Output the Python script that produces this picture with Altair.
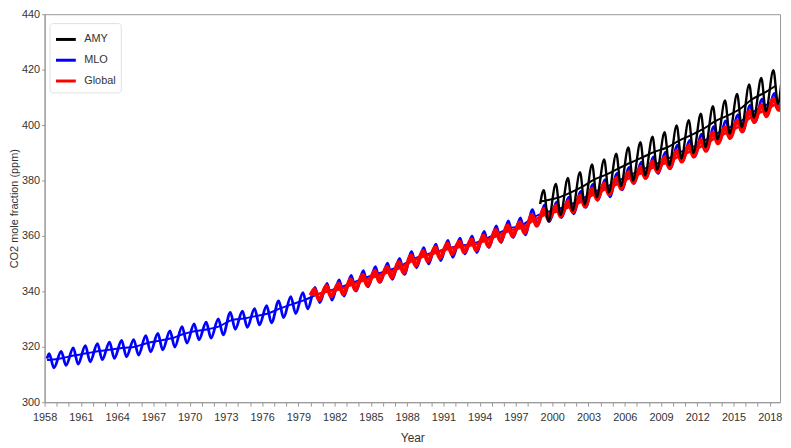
import altair as alt
import pandas as pd

# ---------------- data ----------------
mlo_years = list(range(1958, 2019))
mlo_trend = [315.3, 315.97, 316.91, 317.64, 318.45, 318.99, 319.62, 320.04, 321.37, 322.18,
             323.05, 324.62, 325.68, 326.32, 327.46, 329.68, 330.19, 331.12, 332.03, 333.84,
             335.41, 336.84, 338.76, 340.12, 341.48, 343.15, 344.85, 346.35, 347.61, 349.31,
             351.69, 353.20, 354.45, 355.70, 356.54, 357.21, 358.96, 360.97, 362.74, 363.88,
             366.84, 368.54, 369.71, 371.32, 373.45, 375.98, 377.70, 379.98, 382.09, 384.02,
             385.83, 387.64, 390.10, 391.85, 394.06, 396.74, 398.81, 401.01, 404.41, 406.76,
             408.72]
mlo_peak = [317.5, 318.3, 319.6, 320.4, 321.1, 321.7, 322.3, 322.6, 324.0, 324.8,
            325.7, 327.3, 328.3, 328.9, 330.1, 332.4, 332.9, 333.8, 334.8, 336.6,
            338.1, 339.5, 341.4, 342.9, 344.1, 345.8, 347.5, 348.9, 350.2, 351.9,
            354.3, 355.8, 357.0, 358.4, 359.2, 359.9, 361.6, 363.6, 365.4, 366.5,
            369.5, 371.2, 372.3, 374.0, 376.1, 378.6, 380.3, 382.6, 384.7, 386.6,
            388.5, 390.2, 392.8, 394.5, 396.7, 399.4, 401.5, 403.7, 407.1, 409.4,
            411.4]
mlo_trough = [312.4, 313.3, 313.7, 314.6, 315.4, 315.8, 316.4, 317.0, 318.2, 318.9,
              319.9, 321.3, 322.5, 323.1, 324.3, 326.3, 327.0, 327.9, 328.6, 330.5,
              332.0, 333.7, 335.9, 336.8, 338.3, 340.1, 341.6, 343.2, 344.3, 346.1,
              348.5, 349.9, 351.1, 352.3, 353.5, 354.0, 355.8, 357.6, 359.4, 360.4,
              363.6, 365.2, 366.6, 368.0, 370.3, 372.8, 374.1, 376.6, 378.9, 380.9,
              382.5, 384.3, 386.8, 388.6, 390.7, 393.5, 395.5, 397.6, 401.0, 403.6,
              405.2]

glb_years = list(range(1980, 2019))
glb_trend = [338.91, 340.11, 340.86, 342.53, 344.07, 345.54, 346.97, 348.68, 351.16, 352.78,
             354.05, 355.39, 356.09, 356.83, 358.33, 360.17, 361.93, 363.05, 365.70, 367.80,
             368.96, 370.57, 372.59, 375.15, 376.95, 378.98, 381.15, 382.90, 385.02, 386.50,
             388.76, 390.63, 392.65, 395.40, 397.34, 399.65, 403.06, 405.22, 407.61]
glb_peak = [340.8, 342.0, 342.8, 344.4, 346.0, 347.4, 348.9, 350.6, 353.0, 354.7,
            355.9, 357.3, 358.0, 358.7, 360.2, 362.1, 363.8, 364.9, 367.6, 369.7,
            370.9, 372.5, 374.5, 377.0, 378.9, 380.9, 383.0, 384.8, 386.9, 388.4,
            390.7, 392.5, 394.6, 397.3, 399.2, 401.6, 405.0, 407.1, 409.5]
glb_trough = [336.9, 338.1, 338.9, 340.5, 342.1, 343.5, 345.0, 346.7, 349.2, 350.8,
              352.0, 353.4, 354.1, 354.8, 356.3, 358.2, 359.9, 361.1, 363.7, 365.8,
              367.0, 368.6, 370.6, 373.2, 374.9, 377.0, 379.2, 380.9, 383.0, 384.5,
              386.8, 388.6, 390.7, 393.4, 395.3, 397.7, 401.1, 403.2, 405.6]

amy_years = list(range(1999, 2019))
amy_trend = [372.8, 373.8, 375.6, 377.8, 380.4, 382.2, 384.4, 386.5, 388.4, 390.4,
             391.9, 394.4, 396.4, 398.6, 401.4, 403.4, 405.7, 409.2, 411.5, 414.2]
amy_peak = [376.5, 378.8, 380.9, 383.0, 385.8, 387.6, 389.7, 391.9, 393.8, 395.8,
            397.4, 399.9, 401.8, 404.1, 406.8, 408.9, 411.2, 414.7, 417.0, 419.8]
amy_trough = [365.2, 367.5, 369.2, 371.4, 374.0, 375.7, 378.0, 380.0, 381.9, 383.9,
              385.5, 387.9, 389.9, 392.1, 394.9, 396.9, 399.2, 402.7, 405.0, 407.7]

# first / last monthly value of each record: (time, value)
start_points = {"MLO": (1958.2, 315.7), "Global": (1980.0, 338.6), "AMY": (1999.0, 371.5)}
end_points = {"MLO": (2018.95, 409.0), "Global": (2018.95, 407.2), "AMY": (2018.95, 415.0)}
trend_start = {"MLO": (1958.2, 315.2), "Global": (1980.0, 338.7), "AMY": (1999.0, 372.4)}
# month position (fraction of year) of seasonal maximum / minimum
peak_phase = {"MLO": 0.37, "Global": 0.33, "AMY": 0.30}
trough_phase = {"MLO": 0.77, "Global": 0.70, "AMY": 0.68}

series_names = ["AMY", "MLO", "Global"]
series_colors = ["#000000", "#0000ff", "#ff0000"]

# ---------------- table ----------------
rows = []
def build(name, years, trend, peak, trough):
    st = start_points[name]
    rows.append({"series": name, "kind": "seasonal", "t": st[0], "v": st[1]})
    for yr, p, tr in zip(years, peak, trough):
        rows.append({"series": name, "kind": "seasonal", "t": yr + peak_phase[name], "v": p})
        rows.append({"series": name, "kind": "seasonal", "t": yr + trough_phase[name], "v": tr})
    en = end_points[name]
    rows.append({"series": name, "kind": "seasonal", "t": en[0], "v": en[1]})
    ts = trend_start[name]
    rows.append({"series": name, "kind": "trend", "t": ts[0], "v": ts[1]})
    for yr, m in zip(years, trend):
        rows.append({"series": name, "kind": "trend", "t": yr + 0.5, "v": m})

build("MLO", mlo_years, mlo_trend, mlo_peak, mlo_trough)
build("Global", glb_years, glb_trend, glb_peak, glb_trough)
build("AMY", amy_years, amy_trend, amy_peak, amy_trough)
df = pd.DataFrame(rows)

FONT = "Liberation Sans"
TXT = "#333333"

color_scale = alt.Scale(domain=series_names, range=series_colors)
legend_color = alt.Color(
    "series:N",
    scale=color_scale,
    legend=alt.Legend(
        title=None, orient="none", legendX=5, legendY=9,
        symbolType="stroke", symbolStrokeWidth=3, symbolSize=400,
        labelFontSize=11, labelFont=FONT, labelColor=TXT,
        rowPadding=3, padding=5, fillColor="white", strokeColor="#e0e0e0",
        cornerRadius=3, labelOffset=7,
    ),
)
plain_color = alt.Color("series:N", scale=color_scale, legend=None)

x = alt.X(
    "t:Q",
    scale=alt.Scale(domain=[1958, 2018.85], nice=False, zero=False),
    axis=alt.Axis(
        title="Year", values=list(range(1958, 2019)), format="d",
        labelExpr="(datum.value - 1958) % 3 == 0 ? datum.label : ''",
        tickSize=4, labelPadding=5, labelFontSize=11, labelFont=FONT,
        titleFont=FONT, titleFontSize=12, titleFontWeight="normal",
        titlePadding=11, labelColor=TXT, titleColor=TXT, labelFlush=False,
        domainColor="#999", tickColor="#999", grid=False, labelOverlap=False,
    ),
)
y = alt.Y(
    "v:Q",
    scale=alt.Scale(domain=[300, 440], nice=False, zero=False),
    axis=alt.Axis(
        title="CO2 mole fraction (ppm)", values=list(range(300, 441, 20)),
        tickSize=3, labelPadding=2, labelFontSize=11, labelFont=FONT,
        titleFont=FONT, titleFontSize=11, titleFontWeight="normal",
        titleX=-25, titleBaseline="bottom", labelFlush=False,
        labelColor=TXT, titleColor=TXT,
        domainColor="#999", tickColor="#999", grid=False,
    ),
)

def layer(name, w_season, w_trend, with_legend):
    c = legend_color if with_legend else plain_color
    base = alt.Chart(df).transform_filter(alt.datum.series == name)
    seas = base.transform_filter(alt.datum.kind == "seasonal").mark_line(
        strokeWidth=w_season, interpolate="monotone", clip=True
    ).encode(x=x, y=y, color=c)
    tr = base.transform_filter(alt.datum.kind == "trend").mark_line(
        strokeWidth=w_trend, interpolate="monotone", clip=True
    ).encode(x=x, y=y, color=c)
    return [seas, tr]

layers = layer("MLO", 2.8, 2, True) + layer("Global", 4.0, 2.6, False) + layer("AMY", 2.4, 2, False)

chart = alt.layer(*layers).properties(
    width=743, height=392,
    autosize=alt.AutoSizeParams(type="none"),
    padding={"left": 37, "top": 4, "right": 3, "bottom": 44},
).configure_view(stroke="#999", strokeWidth=1)

chart.save("out.html", embed_options={"renderer": "svg", "actions": False})
